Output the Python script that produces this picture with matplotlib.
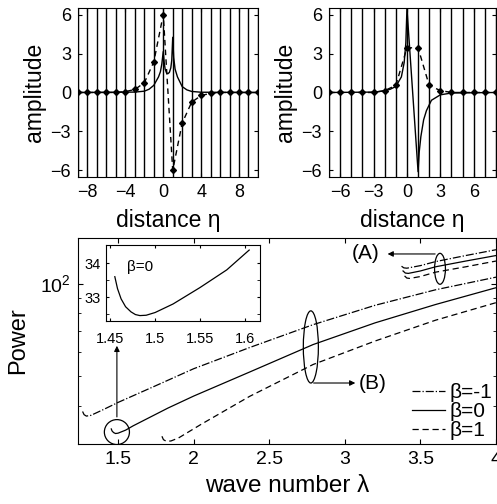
import numpy as np
import matplotlib
matplotlib.use("Agg")
import matplotlib.pyplot as plt
from matplotlib.patches import Ellipse
from matplotlib.ticker import FixedLocator, NullFormatter, LogLocator

plt.rcParams['font.family'] = ['Liberation Sans', 'DejaVu Sans']
plt.rcParams['mathtext.fontset'] = 'custom'
plt.rcParams['mathtext.rm'] = 'Liberation Sans'

# --- top-left panel: amplitude vs lattice site ---
left_sites = np.arange(-9, 11)
left_dashed = [0, 0, 0, 0, 0, 0.07, 0.23, 0.75, 2.35, 6.0,
               -6.0, -2.35, -0.75, -0.23, -0.07, 0, 0, 0, 0, 0]
left_solid_x = [-9, -3, -2, -1.5, -1, -0.5, -0.3, -0.15, 0, 0.1, 0.2, 0.35, 0.5,
                0.65, 0.8, 0.9, 1.0, 1.1, 1.25, 1.5, 2.0, 2.5, 3, 4, 10]
left_solid_y = [0, 0.03, 0.1, 0.25, 0.55, 1.2, 1.6, 2.2, 3.15, 2.3, 1.8, 1.5, 1.45,
                1.55, 1.9, 2.5, 4.25, 2.7, 1.8, 1.2, 0.45, 0.2, 0.08, 0.02, 0]

# --- top-right panel ---
right_sites = np.arange(-7, 9)
right_dashed = [0, 0, 0, 0, 0, 0.15, 0.54, 3.44, 3.44, 0.54, 0.15, 0, 0, 0, 0, 0]
right_solid_x = [-7, -3, -2, -1.5, -1, -0.5, -0.25, -0.1, 0, 1, 1.1, 1.25, 1.5,
                 1.75, 2.2, 3, 4, 8]
right_solid_y = [0, 0.03, 0.12, 0.25, 0.46, 1.2, 2.3, 3.8, 6.45, -6.1, -4.6, -3.4,
                 -2.1, -1.4, -0.6, -0.18, -0.04, 0]

# --- bottom panel: power vs wave number ---
bm1_lam = [1.265, 1.275, 1.29, 1.32, 1.4, 1.5, 1.75, 2.0, 2.37, 2.79, 3.2, 3.6, 4.0]
bm1_pow = [38.3, 37.4, 37.0, 37.2, 38.8, 41.0, 46.5, 52.8, 61.9, 73.5, 85.0, 95.5, 105]
b0_lam = [1.455, 1.46, 1.47, 1.483, 1.5, 1.55, 1.6, 1.83, 2.0, 2.37, 2.79, 3.2, 3.6, 4.0]
b0_pow = [33.6, 33.1, 32.7, 32.46, 32.55, 33.3, 34.4, 39.3, 43.0, 51.5, 63.3, 74.5, 85.5, 97]
bp1_lam = [1.79, 1.80, 1.82, 1.85, 1.9, 2.05, 2.37, 2.79, 3.2, 3.6, 4.0]
bp1_pow = [31.8, 31.0, 30.6, 30.7, 31.4, 34.8, 42.9, 54.5, 65, 76, 86.7]

am1_lam = [3.375, 3.39, 3.41, 3.5, 3.6, 3.8, 4.0]
am1_pow = [114, 112.6, 112.3, 114.5, 118, 123.5, 129]
a0_lam = [3.385, 3.40, 3.42, 3.5, 3.6, 3.8, 4.0]
a0_pow = [110, 108.3, 108.0, 110, 113.5, 118.5, 123.5]
ap1_lam = [3.395, 3.41, 3.43, 3.5, 3.6, 3.8, 4.0]
ap1_pow = [106, 104.3, 104.0, 105.5, 109, 113.5, 118.5]

# inset (beta = 0 near its minimum)
ins_lam = [1.455, 1.458, 1.462, 1.467, 1.473, 1.478, 1.483, 1.49, 1.5, 1.52, 1.55, 1.58, 1.605]
ins_pow = [33.6, 33.25, 32.95, 32.72, 32.57, 32.49, 32.46, 32.47, 32.55, 32.8, 33.28, 33.8, 34.38]

FS = 13

fig = plt.figure(figsize=(4.97, 5.04), dpi=100)

def top_panel(rect, sites, dashed, sx, sy, xlim, xticks):
    ax = fig.add_axes(rect)
    for s in range(int(xlim[0]), int(xlim[1]) + 1):
        ax.axvline(s, color='k', lw=1.0)
    ax.plot(sx, sy, 'k-', lw=1.0)
    ax.plot(sites, dashed, 'k--', lw=1.0, marker='D', ms=3, dashes=(4, 3))
    ax.set_xlim(xlim)
    ax.set_ylim(-6.5, 6.5)
    ax.set_yticks([-6, -3, 0, 3, 6])
    ax.set_xticks(xticks)
    ax.tick_params(direction='in', top=True, right=True, labelsize=FS, pad=5, length=3)
    ax.set_xlabel('distance η', fontsize=16.5, labelpad=6)
    ax.set_ylabel('amplitude', fontsize=16.5, labelpad=3)
    return ax

top_panel([0.157, 0.649, 0.362, 0.335], left_sites, left_dashed,
          left_solid_x, left_solid_y, (-9, 10), [-8, -4, 0, 4, 8])
top_panel([0.662, 0.649, 0.336, 0.335], right_sites, right_dashed,
          right_solid_x, right_solid_y, (-7, 8), [-6, -3, 0, 3, 6])

ax = fig.add_axes([0.157, 0.119, 0.841, 0.409])
ax.plot(bm1_lam, bm1_pow, 'k-.', lw=0.9, label='β=-1')
ax.plot(b0_lam, b0_pow, 'k-', lw=0.9, label='β=0')
ax.plot(bp1_lam, bp1_pow, 'k--', lw=0.9, label='β=1', dashes=(5, 3))
ax.plot(am1_lam, am1_pow, 'k-.', lw=0.9)
ax.plot(a0_lam, a0_pow, 'k-', lw=0.9)
ax.plot(ap1_lam, ap1_pow, 'k--', lw=0.9, dashes=(5, 3))
ax.set_yscale('log')
ax.set_xlim(1.235, 4.0)
ax.set_ylim(30, 141)
ax.yaxis.set_major_locator(FixedLocator([100]))
ax.set_yticklabels(['$10^2$'])
ax.yaxis.set_minor_locator(LogLocator(base=10, subs=np.arange(2, 10)))
ax.yaxis.set_minor_formatter(NullFormatter())
ax.set_xticks([1.5, 2, 2.5, 3, 3.5, 4])
ax.set_xticklabels(['1.5', '2', '2.5', '3', '3.5', '4'])
ax.tick_params(which='both', direction='in', top=True, right=True, labelsize=14, pad=5)
ax.tick_params(which='minor', length=2.5)
ax.set_xlabel('wave number λ', fontsize=17.5, labelpad=5)
ax.set_ylabel('Power', fontsize=17, labelpad=8)
ax.legend(loc='lower right', frameon=False, fontsize=15, handlelength=1.6,
          handletextpad=0.2, labelspacing=0.0, borderaxespad=0.1, borderpad=0.1)

# annotations in axes fraction
for cx, cy, w, h in [(0.866, 0.850, 0.026, 0.150), (0.557, 0.471, 0.036, 0.350),
                     (0.093, 0.058, 0.060, 0.121)]:
    ax.add_patch(Ellipse((cx, cy), w, h, transform=ax.transAxes, fill=False,
                         ec='k', lw=0.9))
arrow = dict(arrowstyle='-|>', color='k', lw=0.8, mutation_scale=8)
ax.annotate('', xy=(0.734, 0.922), xytext=(0.861, 0.922), xycoords='axes fraction',
            arrowprops=arrow)
ax.text(0.687, 0.922, '(A)', transform=ax.transAxes, ha='center', va='center', fontsize=15)
ax.annotate('', xy=(0.670, 0.296), xytext=(0.557, 0.296), xycoords='axes fraction',
            arrowprops=arrow)
ax.text(0.706, 0.296, '(B)', transform=ax.transAxes, ha='center', va='center', fontsize=15)
ax.annotate('', xy=(0.093, 0.490), xytext=(0.093, 0.118), xycoords='axes fraction',
            arrowprops=arrow)

ins = fig.add_axes([0.213, 0.363, 0.31, 0.151])
ins.plot(ins_lam, ins_pow, 'k-', lw=0.9)
ins.set_xlim(1.445, 1.617)
ins.set_ylim(32.3, 34.53)
ins.set_xticks([1.45, 1.5, 1.55, 1.6])
ins.set_xticklabels(['1.45', '1.5', '1.55', '1.6'])
ins.set_yticks([33, 34])
ins.set_yticks([32.5, 33.5], minor=True)
ins.tick_params(which='both', direction='in', top=True, right=True, labelsize=10.5,
                length=2.5)
ins.tick_params(axis='x', pad=8)
ins.tick_params(axis='y', pad=4)
ins.text(0.14, 0.71, 'β=0', transform=ins.transAxes, ha='left', va='center', fontsize=11)

fig.savefig('out.png', dpi=100)
